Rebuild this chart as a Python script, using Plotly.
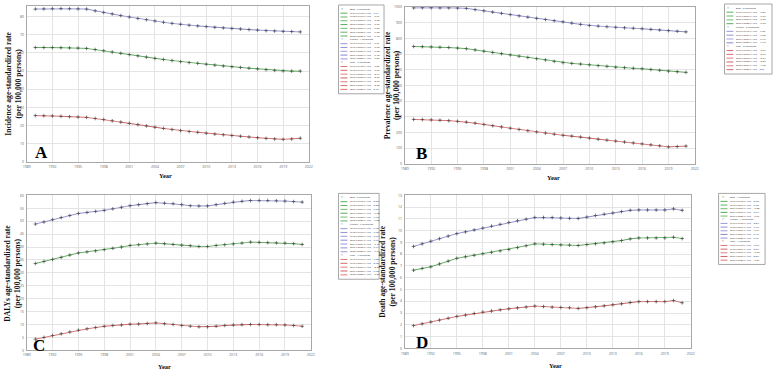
import plotly.graph_objects as go

W, H = 777, 373
years = list(range(1990, 2022))
x_ticks = list(range(1989, 2023, 3))

# ---------------- Panel A: Incidence ----------------
inc_both = [63.0, 63.0, 63.0, 62.9, 62.8, 62.7, 62.5, 61.9, 61.2, 60.5, 59.8, 59.1, 58.4, 57.7, 57.0, 56.4,
            55.8, 55.2, 54.7, 54.3, 53.8, 53.3, 52.8, 52.4, 52.0, 51.6, 51.2, 50.8, 50.4, 50.1, 50.0, 50.0]
inc_female = [84.2, 84.3, 84.4, 84.5, 84.4, 84.3, 84.2, 83.2, 82.3, 81.5, 80.6, 79.8, 79.0, 78.3, 77.6, 76.9,
              76.3, 75.8, 75.3, 74.9, 74.5, 74.1, 73.8, 73.5, 73.2, 72.9, 72.6, 72.3, 72.1, 71.9, 71.8, 71.6]
inc_male = [25.5, 25.4, 25.3, 25.1, 24.9, 24.7, 24.5, 23.9, 23.3, 22.6, 21.9, 21.2, 20.5, 19.8, 19.1, 18.4,
            17.8, 17.2, 16.7, 16.3, 15.8, 15.3, 14.9, 14.5, 14.1, 13.7, 13.3, 12.9, 12.6, 12.4, 12.6, 13.0]
inc_yticks = [0, 10, 20, 30, 40, 50, 60, 70, 80]

# ---------------- Panel B: Prevalence ----------------
prev_both = [748, 747, 745, 743, 741, 738, 734, 726, 718, 710, 702, 694, 686, 678, 670, 662,
             653, 645, 640, 636, 631, 626, 621, 616, 613, 609, 606, 601, 596, 591, 587, 583]
prev_female = [994, 995, 995, 994, 994, 993, 991, 983, 975, 967, 959, 951, 943, 935, 927, 920,
               912, 905, 897, 889, 882, 878, 874, 870, 867, 864, 861, 857, 853, 849, 845, 841]
prev_male = [283, 282, 280, 278, 275, 271, 266, 259, 251, 243, 235, 227, 219, 211, 203, 196,
             189, 182, 177, 171, 164, 157, 151, 145, 139, 133, 127, 121, 115, 108, 110, 113]
prev_yticks = [0, 100, 200, 300, 400, 500, 600, 700, 800, 900, 1000]

# ---------------- Panel C: DALYs ----------------
daly_both = [33.6, 34.4, 35.2, 36.0, 36.9, 37.7, 38.1, 38.5, 39.0, 39.5, 40.0, 40.6, 40.9, 41.2, 41.5, 41.3,
             41.0, 40.7, 40.5, 40.2, 40.2, 40.6, 40.9, 41.2, 41.5, 41.9, 41.8, 41.7, 41.6, 41.5, 41.3, 41.0]
daly_female = [48.9, 49.7, 50.6, 51.4, 52.2, 53.0, 53.4, 53.8, 54.2, 54.8, 55.4, 56.0, 56.4, 56.8, 57.2, 57.0,
               56.8, 56.4, 56.0, 55.9, 55.9, 56.4, 56.9, 57.4, 57.7, 58.0, 58.0, 58.0, 57.9, 57.8, 57.6, 57.4]
daly_male = [4.3, 5.0, 5.7, 6.4, 7.1, 7.8, 8.3, 8.8, 9.3, 9.6, 9.8, 10.1, 10.2, 10.4, 10.6, 10.3,
             10.0, 9.6, 9.3, 9.1, 9.1, 9.3, 9.6, 9.8, 9.9, 10.0, 10.0, 9.9, 9.9, 9.8, 9.6, 9.3]
daly_yticks = [0, 5, 10, 15, 20, 25, 30, 35, 40, 45, 50, 55, 60]

# ---------------- Panel D: Death ----------------
death_both = [6.64, 6.79, 6.93, 7.17, 7.41, 7.65, 7.78, 7.91, 8.04, 8.16, 8.28, 8.40, 8.56, 8.72, 8.88, 8.85,
              8.82, 8.79, 8.77, 8.74, 8.82, 8.89, 8.96, 9.06, 9.16, 9.30, 9.38, 9.38, 9.38, 9.38, 9.44, 9.33]
death_female = [8.66, 8.88, 9.10, 9.32, 9.54, 9.75, 9.90, 10.06, 10.22, 10.38, 10.54, 10.70, 10.84, 10.98, 11.12, 11.12,
                11.12, 11.08, 11.05, 11.04, 11.15, 11.29, 11.40, 11.50, 11.62, 11.73, 11.76, 11.76, 11.76, 11.76, 11.85, 11.73]
death_male = [1.93, 2.08, 2.24, 2.40, 2.55, 2.71, 2.83, 2.96, 3.08, 3.17, 3.27, 3.36, 3.44, 3.51, 3.59, 3.55,
              3.50, 3.47, 3.45, 3.39, 3.45, 3.53, 3.61, 3.70, 3.78, 3.89, 3.97, 3.97, 3.97, 3.97, 4.06, 3.87]
death_yticks = list(range(0, 14))

# ---------------- Joinpoint segments (start, end, APC label) ----------------
inc_seg_both = [(1990, 1993, "0.04"), (1993, 1996, "-0.16"), (1996, 2000, "-1.13*"), (2000, 2005, "-1.17*"),
                (2005, 2009, "-0.85*"), (2009, 2015, "-0.83*"), (2015, 2021, "-0.45*")]
inc_seg_female = [(1990, 1996, "-0.01"), (1996, 2000, "-1.08*"), (2000, 2009, "-0.82*"),
                  (2009, 2016, "-0.45*"), (2016, 2021, "-0.27*")]
inc_seg_male = [(1990, 1993, "-0.52"), (1993, 1996, "-0.87*"), (1996, 2000, "-2.64*"), (2000, 2005, "-3.15*"),
                (2005, 2009, "-2.60*"), (2009, 2019, "-2.72*"), (2019, 2021, "2.43")]

prev_seg_both = [(1990, 1996, "-0.29*"), (1996, 2009, "-1.16*"), (2009, 2016, "-0.71*"), (2016, 2021, "-0.78*")]
prev_seg_female = [(1990, 1996, "-0.05"), (1996, 2009, "-0.82*"), (2009, 2016, "-0.46*"), (2016, 2021, "-0.47*")]
prev_seg_male = [(1990, 1995, "-0.89*"), (1995, 2000, "-2.40*"), (2000, 2007, "-3.74*"), (2007, 2012, "-3.58*"),
                 (2012, 2019, "-4.95*"), (2019, 2021, "2.29")]

daly_seg_both = [(1990, 1995, "2.30*"), (1995, 2001, "1.22*"), (2001, 2004, "0.77*"), (2004, 2009, "-0.62*"),
                 (2009, 2015, "0.67*"), (2015, 2021, "-0.27*")]
daly_seg_female = [(1990, 1995, "1.68*"), (1995, 1998, "0.75*"), (1998, 2001, "1.06*"), (2001, 2004, "0.69*"),
                   (2004, 2009, "-0.45*"), (2009, 2015, "0.64*"), (2015, 2021, "-0.19*")]
daly_seg_male = [(1990, 1998, "9.32*"), (1998, 2004, "2.12*"), (2004, 2009, "-2.72*"),
                 (2009, 2015, "1.62*"), (2015, 2021, "-1.21*")]

death_seg_both = [(1990, 1995, "2.85*"), (1995, 2004, "1.63*"), (2004, 2009, "-0.33*"),
                  (2009, 2016, "1.04*"), (2016, 2021, "-0.01")]
death_seg_female = [(1990, 1995, "2.39*"), (1995, 2004, "1.46*"), (2004, 2009, "-0.14"),
                    (2009, 2016, "0.91*"), (2016, 2021, "0.03")]
death_seg_male = [(1990, 1995, "7.00*"), (1995, 2004, "3.19*"), (2004, 2009, "-1.18*"),
                  (2009, 2016, "2.36*"), (2016, 2021, "-0.36")]

# ---------------- styling ----------------
greens = ["#4aa84a", "#52ae52", "#5cb45c", "#46a246", "#62b862", "#4ea64e", "#44a844"]
blues = ["#8c8cd8", "#8484d4", "#9494dc", "#7c7ccc", "#8a8ad6", "#8080d0", "#9090d8"]
reds = ["#dc6464", "#d45a5a", "#e07070", "#cc5050", "#e06a6a", "#d45e5e", "#e46060"]
SERIF = "Liberation Serif, Times New Roman, serif"

panels = [
    dict(letter="A", box=(23, 3, 308, 161), ytop=85.9, yticks=inc_yticks,
         ytitle="Incidence age-standardized rate<br>(per 100,000 persons)",
         series=[("Both", inc_both, inc_seg_both, greens), ("Female", inc_female, inc_seg_female, blues),
                 ("Male", inc_male, inc_seg_male, reds)],
         ytitle_x=10, year_xy=(163, 175), letter_xy=(38, 152), legend=(338, 2, 384, 92)),
    dict(letter="B", box=(405, 4, 698, 163), ytop=1000, yticks=prev_yticks,
         ytitle="Prevalence age-standardized rate<br>(per 100,000 persons)",
         series=[("Both", prev_both, prev_seg_both, greens), ("Female", prev_female, prev_seg_female, blues),
                 ("Male", prev_male, prev_seg_male, reds)],
         ytitle_x=392, year_xy=(555, 177), letter_xy=(422, 153), legend=(728, 1, 776, 72)),
    dict(letter="C", box=(23, 195, 310, 352), ytop=60, yticks=daly_yticks,
         ytitle="DALYs age-standardized rate<br>(per 100,000 persons)",
         series=[("Both", daly_both, daly_seg_both, greens), ("Female", daly_female, daly_seg_female, blues),
                 ("Male", daly_male, daly_seg_male, reds)],
         ytitle_x=9, year_xy=(162, 368), letter_xy=(35, 347), legend=(338, 193, 379, 280)),
    dict(letter="D", box=(405, 195, 694, 350), ytop=13, yticks=death_yticks,
         ytitle="Death age-standardized rate<br>(per 100,000 persons)",
         series=[("Both", death_both, death_seg_both, greens), ("Female", death_female, death_seg_female, blues),
                 ("Male", death_male, death_seg_male, reds)],
         ytitle_x=388, year_xy=(557, 367), letter_xy=(422, 344), legend=(722, 193, 769, 265)),
]


def fx(p):
    return p / W


def fy(p):
    return 1 - p / H


fig = go.Figure()
annotations = []
shapes = []
layout_axes = {}

for i, pnl in enumerate(panels):
    n = "" if i == 0 else str(i + 1)
    xa, ya = "x" + n, "y" + n
    x0, y0, x1, y1 = pnl["box"]
    layout_axes["xaxis" + n] = dict(
        domain=[fx(x0), fx(x1)], anchor=ya, range=[1989, 2022], tickvals=x_ticks,
        showgrid=True, gridcolor="#e4e4e4", gridwidth=0.6, showline=True, linecolor="#a8a8a8",
        linewidth=1, mirror=True, zeroline=False, ticks="", tickfont=dict(size=3.5, color="#666"),
        ticklabelstandoff=1)
    layout_axes["yaxis" + n] = dict(
        domain=[fy(y1), fy(y0)], anchor=xa, range=[0, pnl["ytop"]], tickvals=pnl["yticks"],
        showgrid=True, gridcolor="#e4e4e4", gridwidth=0.6, showline=True, linecolor="#a8a8a8",
        linewidth=1, mirror=True, zeroline=False, ticks="", tickfont=dict(size=3.5, color="#666"),
        ticklabelstandoff=1)

    for name, vals, segs, cols in pnl["series"]:
        for k, (s, e, apc) in enumerate(segs):
            xs = [y for y in years if s <= y <= e]
            ys = [vals[years.index(y)] for y in xs]
            fig.add_trace(go.Scatter(x=xs, y=ys, mode="lines", xaxis=xa, yaxis=ya, showlegend=False,
                                     line=dict(color=cols[k % len(cols)], width=0.9), hoverinfo="skip"))
        fig.add_trace(go.Scatter(x=years, y=vals, mode="markers", xaxis=xa, yaxis=ya, showlegend=False,
                                 marker=dict(symbol="cross-thin", size=2.6,
                                             line=dict(width=0.7, color="#444"))))

    # titles
    annotations.append(dict(x=fx(pnl["ytitle_x"]), y=fy((y0 + y1) / 2), xref="paper", yref="paper",
                            text="<b>" + pnl["ytitle"].replace("<br>", "</b><br><b>") + "</b>",
                            textangle=-90, showarrow=False,
                            font=dict(family=SERIF, size=7.6, color="#111"), xanchor="center", yanchor="middle"))
    annotations.append(dict(x=fx(pnl["year_xy"][0]), y=fy(pnl["year_xy"][1]), xref="paper", yref="paper",
                            text="<b>Year</b>", showarrow=False, font=dict(family=SERIF, size=6.5, color="#111"),
                            xanchor="center", yanchor="middle"))
    annotations.append(dict(x=fx(pnl["letter_xy"][0]), y=fy(pnl["letter_xy"][1]), xref="paper", yref="paper",
                            text="<b>" + pnl["letter"] + "</b>", showarrow=False,
                            font=dict(family=SERIF, size=17, color="#000"), xanchor="center", yanchor="middle"))

    # legend box (drawn manually to allow the tiny row height of the original)
    lx0, ly0, lx1, ly1 = pnl["legend"]
    shapes.append(dict(type="rect", xref="paper", yref="paper", x0=fx(lx0), x1=fx(lx1), y0=fy(ly1), y1=fy(ly0),
                       line=dict(color="#909090", width=0.8), fillcolor="white", layer="above"))
    rows = []
    for name, vals, segs, cols in pnl["series"]:
        rows.append(("hdr", name + " - " + str(len(segs) - 1) + " Joinpoints", cols[0]))
        for k, (s, e, apc) in enumerate(segs):
            rows.append(("seg", "%d.0-%d.0 APC = %s" % (s, e, apc), cols[k % len(cols)]))
    pad = 2.5
    rh = (ly1 - ly0 - 2 * pad) / len(rows)
    for r, (kind, txt, col) in enumerate(rows):
        yc = ly0 + pad + rh * (r + 0.5)
        if kind == "hdr":
            annotations.append(dict(x=fx(lx0 + 4), y=fy(yc), xref="paper", yref="paper", text="*",
                                    showarrow=False, font=dict(size=3.5, color=col),
                                    xanchor="center", yanchor="middle"))
        else:
            shapes.append(dict(type="line", xref="paper", yref="paper", x0=fx(lx0 + 2), x1=fx(lx0 + 9),
                               y0=fy(yc), y1=fy(yc), line=dict(color=col, width=0.9), layer="above"))
        annotations.append(dict(x=fx(lx0 + 10), y=fy(yc), xref="paper", yref="paper", text=txt,
                                showarrow=False, font=dict(family="Liberation Sans, Arial", size=2.4, color="#333"),
                                xanchor="left", yanchor="middle"))

fig.update_layout(width=W, height=H, margin=dict(l=0, r=0, t=0, b=0), plot_bgcolor="white",
                  paper_bgcolor="white", showlegend=False, annotations=annotations, shapes=shapes,
                  **layout_axes)
fig.write_html("out.html", config={"displayModeBar": False},
               post_script="document.body.style.margin='0px';document.body.style.overflow='hidden';")
